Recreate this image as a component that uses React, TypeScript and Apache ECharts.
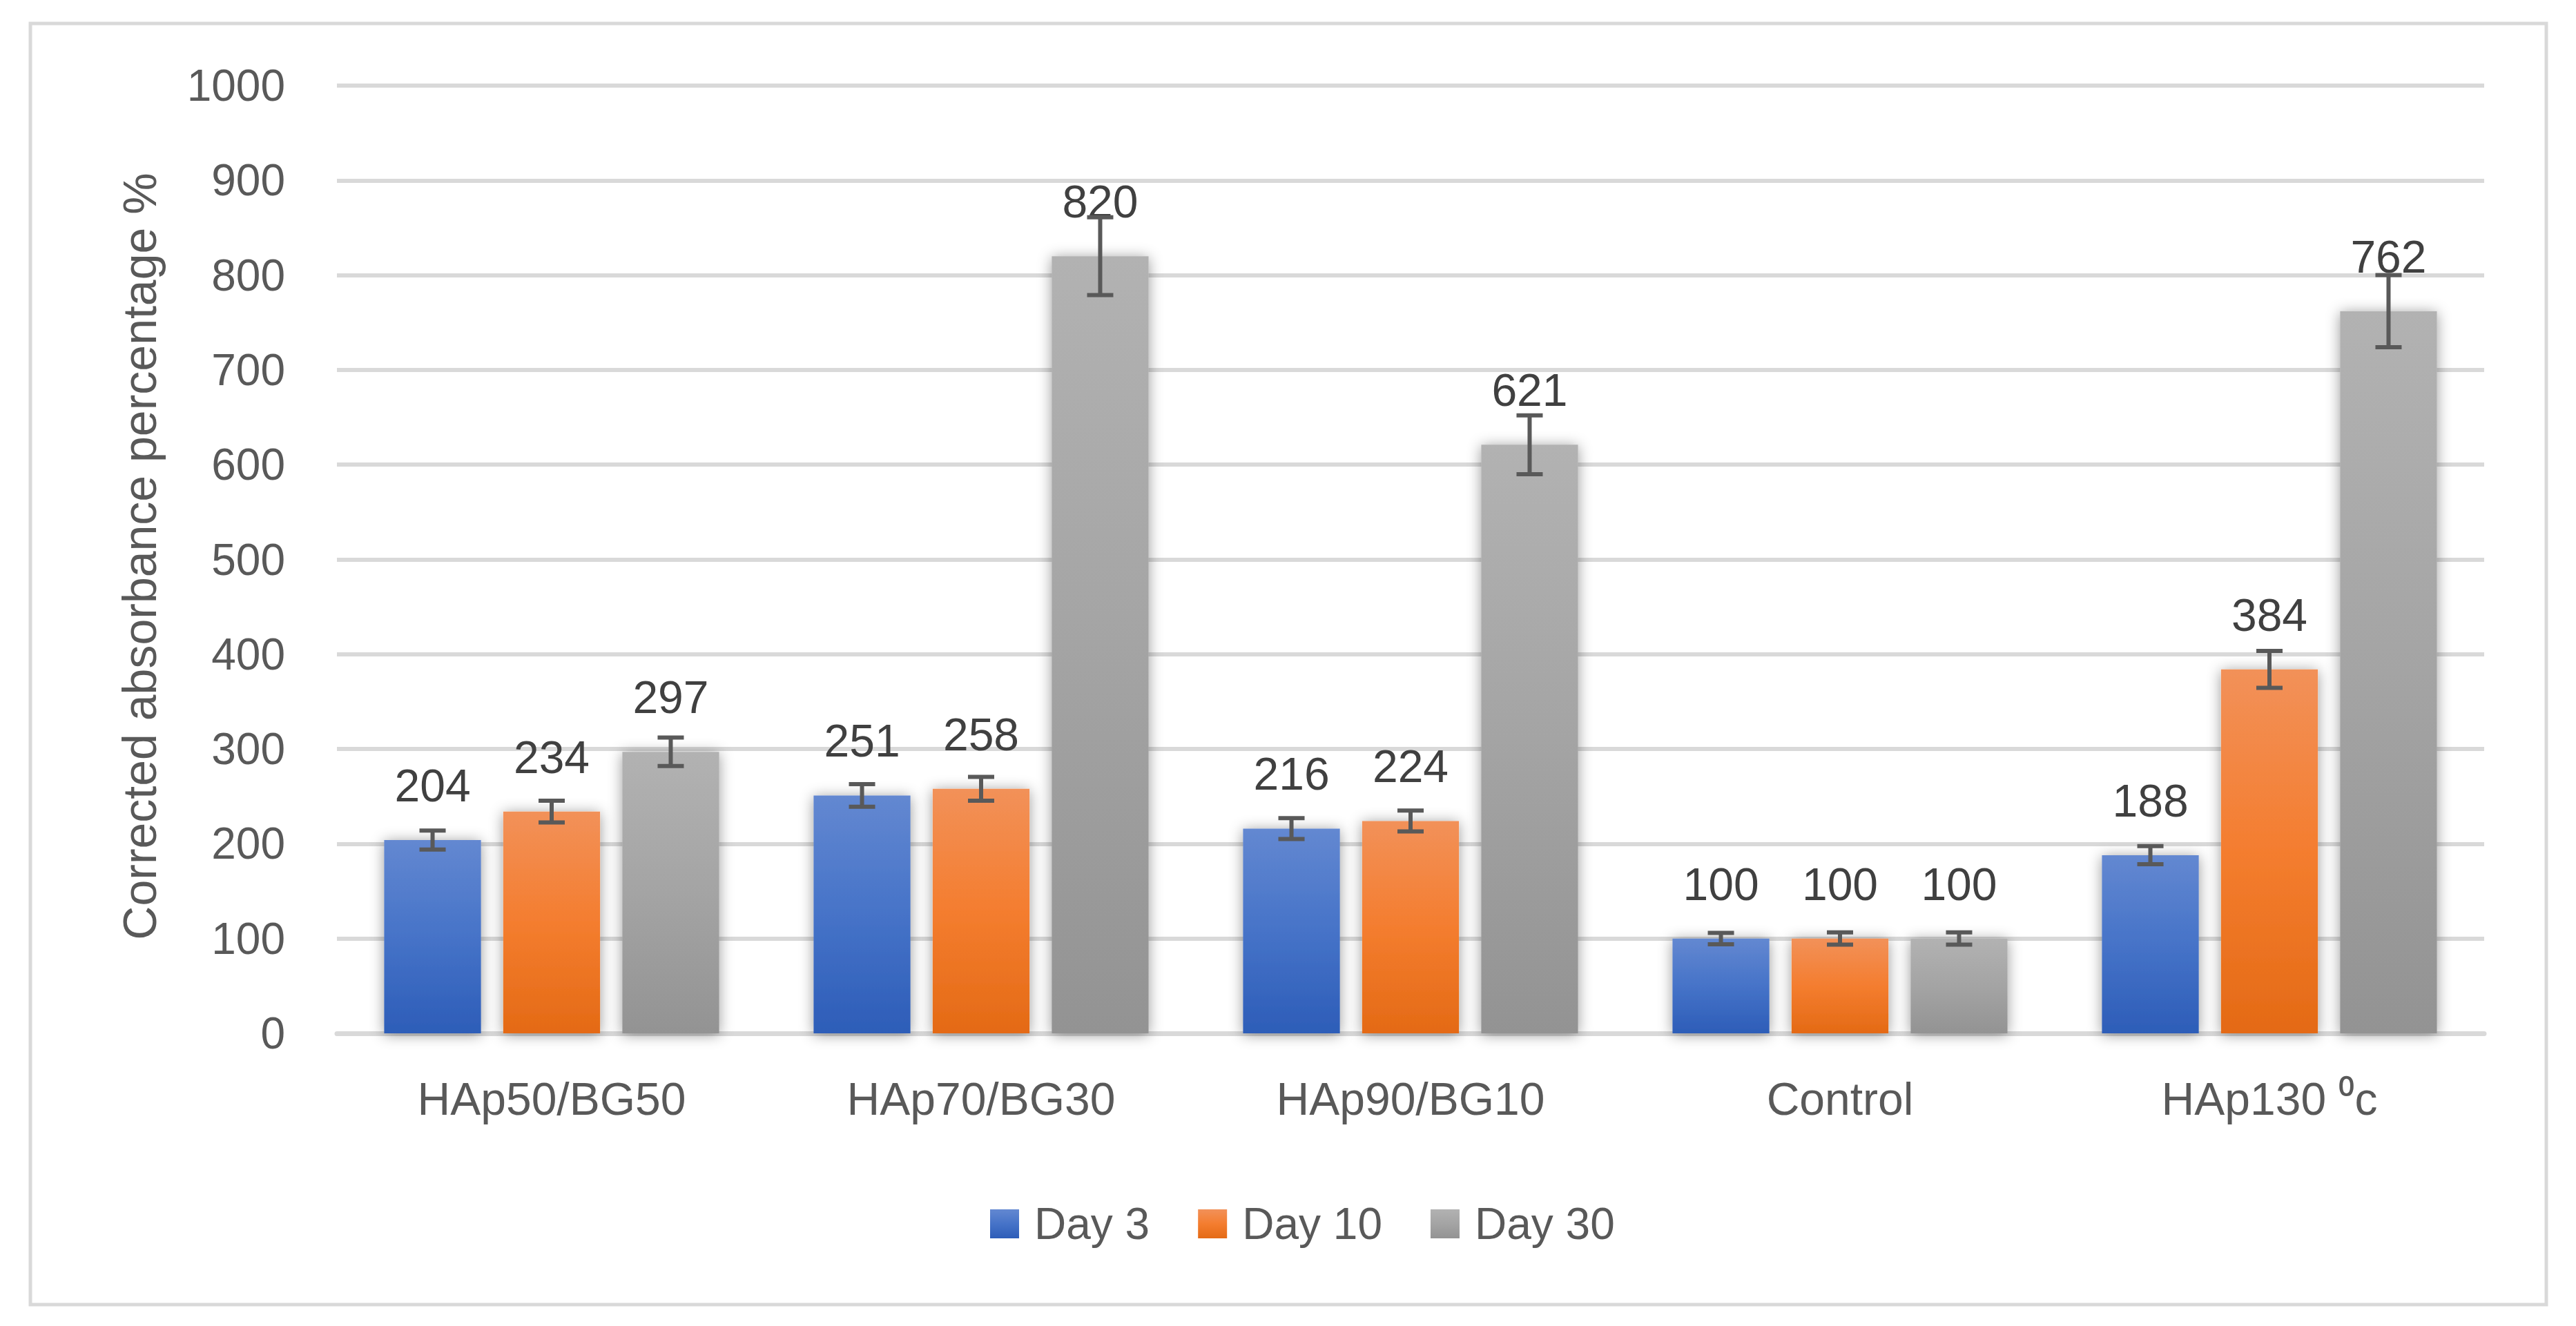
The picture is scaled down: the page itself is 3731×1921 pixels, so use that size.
import React, { useEffect, useRef } from "react";
import * as echarts from "echarts";

const categories = ["HAp50/BG50", "HAp70/BG30", "HAp90/BG10", "Control", "HAp130 \u2070c"];
const seriesNames = ["Day 3", "Day 10", "Day 30"];
const day3 = [204, 251, 216, 100, 188];
const day10 = [234, 258, 224, 100, 384];
const day30 = [297, 820, 621, 100, 762];
const err3 = [10, 12, 11, 6, 9.5];
const err10 = [11.5, 12.5, 11, 6.5, 19.5];
const err30 = [15, 41, 31, 6.5, 38];
const yTicks = { min: 0, max: 1000, interval: 100 };

const FONT = "Liberation Sans";
const BAR_CAT_GAP = 0.22;
const BAR_GAP = 0.23;

const gradients = [
  ["#6388d1", "#4673c8", "#2d5db8"],
  ["#f29159", "#f47d2f", "#e46a15"],
  ["#b2b2b2", "#a4a4a4", "#939393"],
];

function grad(c: string[]) {
  return new echarts.graphic.LinearGradient(0, 0, 0, 1, [
    { offset: 0, color: c[0] },
    { offset: 0.5, color: c[1] },
    { offset: 1, color: c[2] },
  ]);
}

export default function App() {
  const ref = useRef<HTMLDivElement>(null);
  useEffect(() => {
    if (!ref.current) return;
    const chart = echarts.init(ref.current, null, { renderer: "svg" });
    const values = [day3, day10, day30];
    const errs = [err3, err10, err30];

    const barSeries = values.map((vals, s) => ({
      name: seriesNames[s],
      type: "bar",
      data: vals,
      barGap: `${BAR_GAP * 100}%`,
      barCategoryGap: `${BAR_CAT_GAP * 100}%`,
      z: 2,
      itemStyle: {
        color: grad(gradients[s]),
        shadowBlur: 20,
        shadowColor: "rgba(0,0,0,0.40)",
        shadowOffsetY: 2,
      },
      label: {
        show: true,
        position: "top",
        distance: 46,
        fontSize: 66,
        fontFamily: FONT,
        color: "#404040",
      },
    }));

    const errSeries = errs.map((es, s) => ({
      name: seriesNames[s] + " error",
      type: "custom",
      z: 5,
      silent: true,
      data: es.map((e, i) => [i, values[s][i], e]),
      encode: { x: 0, y: 1 },
      renderItem: (params: any, api: any) => {
        const ci = api.value(0);
        const v = api.value(1);
        const e = api.value(2);
        const band = api.size([1, 0])[0];
        const bw = (band * (1 - BAR_CAT_GAP)) / (3 + 2 * BAR_GAP);
        const off = (s - 1) * bw * (1 + BAR_GAP);
        const top = api.coord([ci, v + e]);
        const bot = api.coord([ci, v - e]);
        const x = top[0] + off;
        const hw = 19;
        const st = { stroke: "#595959", lineWidth: 6 };
        return {
          type: "group",
          children: [
            { type: "line", shape: { x1: x, y1: top[1], x2: x, y2: bot[1] }, style: st },
            { type: "line", shape: { x1: x - hw, y1: top[1], x2: x + hw, y2: top[1] }, style: st },
            { type: "line", shape: { x1: x - hw, y1: bot[1], x2: x + hw, y2: bot[1] }, style: st },
          ],
        };
      },
    }));

    chart.setOption({
      animation: false,
      backgroundColor: "#ffffff",
      grid: { left: 488, right: 133, top: 124, bottom: 424, containLabel: false },
      legend: {
        data: seriesNames,
        left: 1434,
        top: 1741,
        padding: 0,
        icon: "rect",
        itemWidth: 42,
        itemHeight: 42,
        itemGap: 70,
        itemStyle: { shadowBlur: 0, shadowColor: "transparent" },
        textStyle: { fontSize: 64, fontFamily: FONT, color: "#595959", padding: [0, 0, 0, 17] },
      },
      xAxis: {
        type: "category",
        data: categories,
        axisLine: { show: true, lineStyle: { color: "#d9d9d9", width: 7 } },
        axisTick: { show: false },
        axisLabel: { fontSize: 66, fontFamily: FONT, color: "#595959", margin: 62 },
      },
      yAxis: {
        type: "value",
        min: yTicks.min,
        max: yTicks.max,
        interval: yTicks.interval,
        axisLine: { show: false },
        axisTick: { show: false },
        splitLine: { lineStyle: { color: "#d9d9d9", width: 6 } },
        axisLabel: {
          fontSize: 64,
          fontFamily: FONT,
          color: "#595959",
          margin: 75,
          formatter: (v: number) => String(v),
        },
      },
      graphic: [
        {
          type: "rect",
          shape: { x: 44, y: 34, width: 3644, height: 1856 },
          style: { fill: "none", stroke: "#d9d9d9", lineWidth: 5 },
          z: -10,
          silent: true,
        },
        {
          type: "text",
          x: 202,
          y: 806,
          rotation: Math.PI / 2,
          style: {
            text: "Corrected absorbance percentage %",
            fontSize: 68,
            fontFamily: FONT,
            fill: "#595959",
            textAlign: "center",
            textVerticalAlign: "middle",
          },
          silent: true,
        },
      ],
      series: [...barSeries, ...errSeries],
    });
    return () => chart.dispose();
  }, []);
  return (
    <div
      ref={ref}
      style={{ position: "absolute", left: 0, top: 0, width: 3731, height: 1921 }}
    />
  );
}
